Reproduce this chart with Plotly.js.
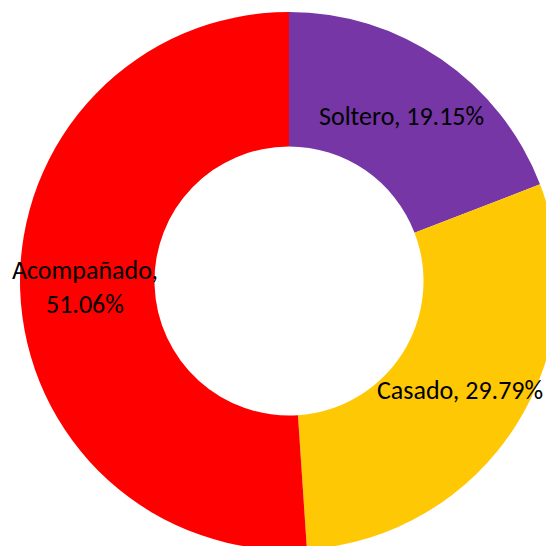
<!DOCTYPE html>
<html><head><meta charset="utf-8">
<script src="https://cdn.plot.ly/plotly-3.0.1.min.js"></script>
<style>html,body{margin:0;padding:0;overflow:hidden;background:#fff;width:546px;height:546px}</style>
</head><body><div id="chart"></div>
<script>
const categories = ["Soltero", "Casado", "Acompañado"];
const values = [19.15, 29.79, 51.06];
const colors = ["#7636A6", "#FFC805", "#FF0000"];

const W = 558, H = 550, L = 20, T = 12, S = 538;
function px(x){return (x - L)/S;}
function py(y){return 1 - (y - T)/S;}
const labelPos = [
  {x: px(401), y: py(116), br: false},
  {x: px(460), y: py(390), br: false},
  {x: px(85), y: py(287), br: true}
];
const annotations = categories.map((c,i)=>({
  xref:'paper', yref:'paper', x: labelPos[i].x, y: labelPos[i].y,
  xanchor:'center', yanchor:'middle', showarrow:false,
  text: c + (labelPos[i].br ? ',<br>' : ', ') + values[i].toFixed(2) + '%',
  font:{family:'Carlito, Calibri, "Liberation Sans", sans-serif', size:26, color:'#000'}
}));

Plotly.newPlot('chart', [{
  type:'pie', labels:categories, values:values, hole:0.5, sort:false,
  direction:'clockwise', rotation:0, textinfo:'none', hoverinfo:'none',
  marker:{colors:colors, line:{width:0}}, domain:{x:[0,1], y:[0,1]}
}], {
  width:W, height:H, margin:{l:L, r:0, t:T, b:0, pad:0},
  showlegend:false, paper_bgcolor:'#fff', annotations:annotations
}, {staticPlot:true});
</script></body></html>
